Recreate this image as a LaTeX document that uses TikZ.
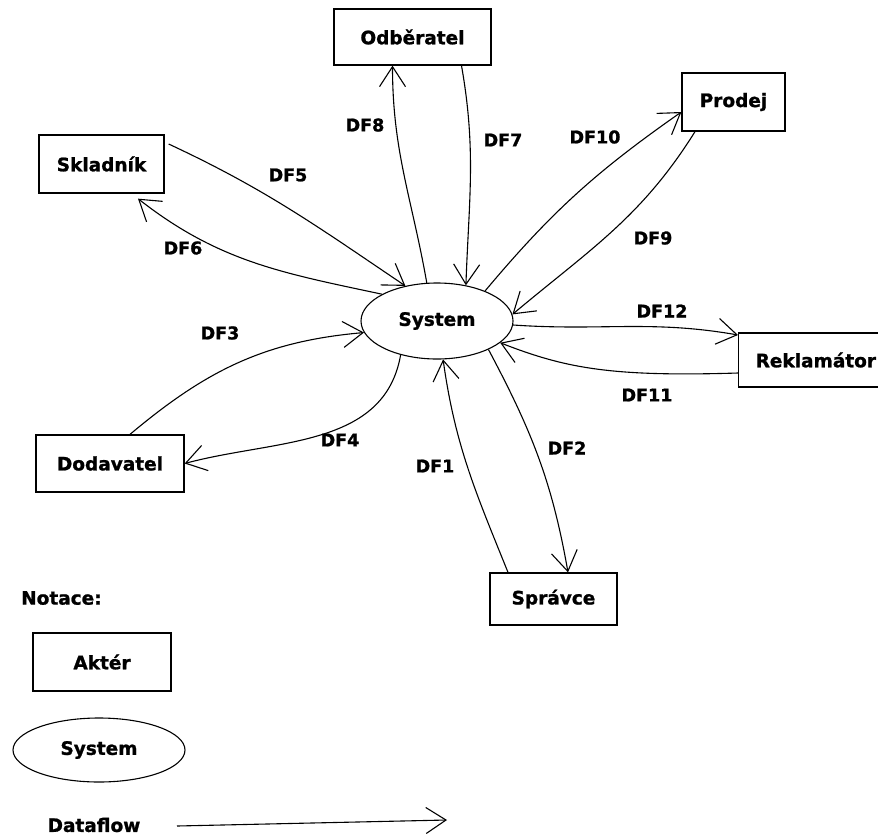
\documentclass[tikz,border=0pt]{standalone}
\usepackage{fontspec}
\setmainfont{DejaVu Sans}
\newfontfamily\heavy{DejaVu Sans}[UprightFont={* Bold},FakeBold=1.2]
\usetikzlibrary{shapes.geometric,arrows.meta}
\begin{document}
\begin{tikzpicture}[x=1pt,y=-1pt,
  every node/.style={font=\heavy\fontsize{18.5}{22}\selectfont},
  actor/.style={draw,line width=1.3pt,rectangle,inner sep=0pt},
  sysell/.style={draw,line width=1.1pt,ellipse,inner sep=0pt},
  lbl/.style={inner sep=0pt,font=\heavy\fontsize{17.5}{21}\selectfont},
  flow/.style={line width=1.1pt,-{Straight Barb[length=20pt,width=26pt,line width=1.1pt]}}]
\useasboundingbox (0,0) rectangle (878,836);
% nodes
\node[sysell,minimum width=152pt,minimum height=76pt] (sys) at (437,321) {System};
\node[actor,minimum width=157pt,minimum height=56pt] (odb) at (412.5,37) {Odběratel};
\node[actor,minimum width=125pt,minimum height=58pt] (skl) at (101.5,164) {Skladník};
\node[actor,minimum width=103pt,minimum height=58pt] (pro) at (733.5,102) {Prodej};
\node[actor,minimum width=148pt,minimum height=57pt] (dod) at (110,463.5) {Dodavatel};
\node[actor,minimum width=127pt,minimum height=52pt] (spr) at (553.5,599) {Správce};
\node[actor,minimum width=170pt,minimum height=54pt,anchor=west,align=left,text width=150pt,inner xsep=17pt] (rek) at (738,360) {Reklamátor};
% flows
\draw[flow] (sys.105) to[out=100,in=-90] ([xshift=-20pt]odb.south);
\draw[flow] ([xshift=49pt]odb.south) to[out=-80,in=88] (sys.51);
\draw[flow] (sys.32) to[out=50,in=-145] ([yshift=-10pt]pro.west);
\draw[flow] ([xshift=-38.5pt]pro.south) to[out=-122,in=40] (sys.5);
\draw[flow] (sys.-3) to[out=-4,in=170] ([yshift=25pt]rek.west);
\draw[flow] ([yshift=-13pt]rek.west) .. controls (610,377) and (565,368) .. (sys.-19);
\draw[flow] (sys.-29) to[out=-62,in=100] ([xshift=14.5pt]spr.north);
\draw[flow] ([xshift=-45.5pt]spr.north) to[out=112,in=-82] (sys.-81);
\draw[flow] ([xshift=20pt]dod.north) to[out=40,in=185] (sys.189);
\draw[flow] (sys.-137) to[out=-100,in=15] (dod.east);
\draw[flow] ([shift={(4pt,20pt)}]skl.east) to[out=-25,in=146] (sys.132);
\draw[flow] (sys.154) to[out=168,in=-38] ([shift={(36.5pt,-5pt)}]skl.south);
% labels
\node[lbl] (l8) at (365,125) {DF8};
\node[lbl] (l7) at (503,140) {DF7};
\node[lbl] (l10) at (595,137) {DF10};
\node[lbl] (l9) at (653,238) {DF9};
\node[lbl] (l12) at (662,311) {DF12};
\node[lbl] (l11) at (647,395) {DF11};
\node[lbl] (l2) at (567,448) {DF2};
\node[lbl] (l1) at (435,466) {DF1};
\node[lbl] (l3) at (220,333) {DF3};
\node[lbl] (l4) at (340,440) {DF4};
\node[lbl] (l5) at (288,175) {DF5};
\node[lbl] (l6) at (183,248) {DF6};
% legend
\node[anchor=west,inner sep=0pt] (notace) at (21,598) {Notace:};
\node[actor,minimum width=138pt,minimum height=58pt] (akter) at (102,662) {Aktér};
\node[sysell,minimum width=172pt,minimum height=64pt] (lsys) at (99,750) {System};
\node[inner sep=0pt] (dflow) at (94,825) {Dataflow};
\coordinate (fs) at (177,826);
\coordinate (fe) at (447,820);
\draw[flow] (fs) -- (fe);
\end{tikzpicture}
\end{document}
